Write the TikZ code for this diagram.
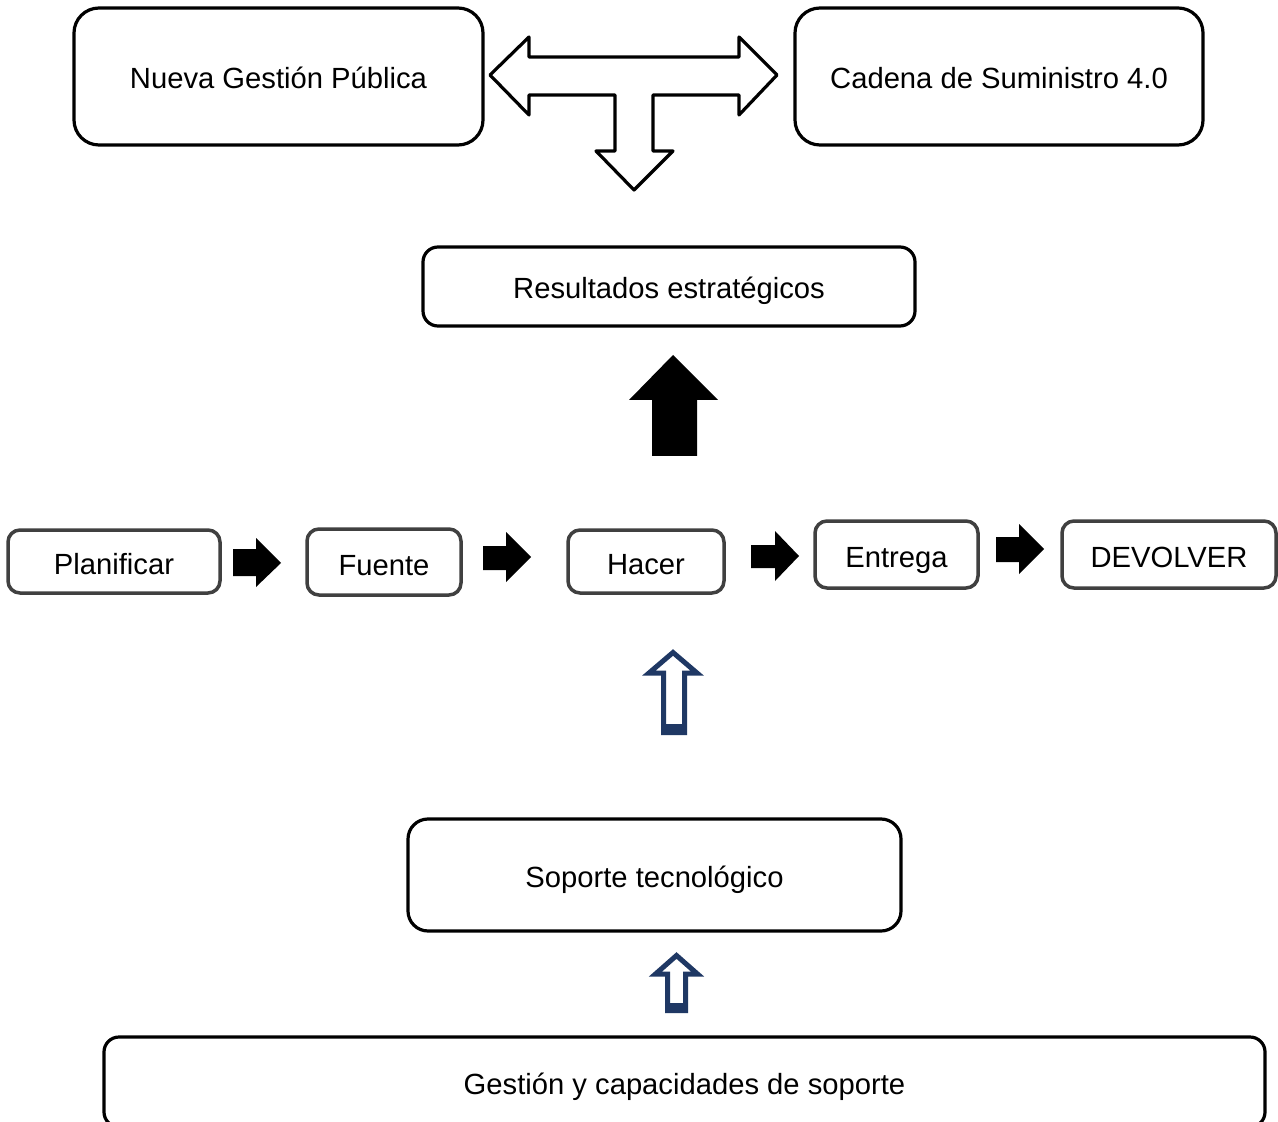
\documentclass[tikz,border=0pt]{standalone}
\usepackage{fontspec}
\setmainfont{Liberation Sans}
\newcommand\lblfont{\fontsize{14.6}{17.5}\selectfont}
\definecolor{rowgray}{HTML}{404040}
\definecolor{navy}{RGB}{31,56,100}
\begin{document}
\begin{tikzpicture}[x=0.5pt,y=-0.5pt,
  bigbox/.style={draw=black, line width=1.6pt, fill=white, inner sep=0pt, font=\lblfont, text height=12.4pt, text depth=0pt},
  rowbox/.style={draw=rowgray, line width=1.75pt, fill=white, rounded corners=6pt, inner sep=0pt, font=\lblfont, text height=13.2pt, text depth=0pt},
  blockarrow/.style={fill=black, draw=none},
  outarrow/.style={draw=black, fill=white, line width=1.6pt, line join=round},
  navyarrow/.style={draw=navy, fill=white, line width=2.5pt, line join=miter},
]
\useasboundingbox (0,0) rectangle (1278,1122);
\clip (0,0) rectangle (1278,1122);
\fill[white] (0,0) rectangle (1278,1122);

% top boxes
\node[bigbox, rounded corners=12.5pt, minimum width=204.5pt, minimum height=68.5pt] (ngp) at (278.5,76.5) {Nueva Gestión Pública};
\node[bigbox, rounded corners=12.5pt, minimum width=204pt, minimum height=68.5pt] (cs) at (999,76.5) {Cadena de Suministro 4.0};

% T-shaped arrow
\draw[outarrow] (490,75) -- (529,37) -- (529,57) -- (739,57) -- (739,37) -- (777,75)
  -- (739,115) -- (739,95) -- (653,95) -- (653,151) -- (673,151) -- (634,190)
  -- (596,151) -- (615,151) -- (615,95) -- (529,95) -- (529,115) -- cycle;

% results
\node[bigbox, rounded corners=7.5pt, minimum width=246pt, minimum height=39.5pt] (res) at (669,286.5) {Resultados estratégicos};

% black up arrow
\fill[blockarrow] (673,355) -- (718,400) -- (697,400) -- (697,456) -- (652,456) -- (652,400) -- (629,400) -- cycle;

% row of steps
\node[rowbox, minimum width=106pt, minimum height=31.5pt] (plan) at (114,561.5) {Planificar};
\node[rowbox, minimum width=77pt, minimum height=33pt] (fuente) at (384,562) {Fuente};
\node[rowbox, minimum width=78pt, minimum height=31.5pt] (hacer) at (646,561.5) {Hacer};
\node[rowbox, minimum width=81.5pt, minimum height=33.5pt] (entrega) at (896.5,554.5) {Entrega};
\node[rowbox, minimum width=107pt, minimum height=33.5pt] (dev) at (1169,554.5) {DEVOLVER};

% row arrows
\fill[blockarrow] (233,549) -- (256,549) -- (256,538) -- (281,563) -- (256,587) -- (256,576) -- (233,576) -- cycle;
\fill[blockarrow] (483,546) -- (506,546) -- (506,532) -- (531,557) -- (506,582) -- (506,570) -- (483,570) -- cycle;
\fill[blockarrow] (751,545) -- (775,545) -- (775,531) -- (799,556) -- (775,581) -- (775,568) -- (751,568) -- cycle;
\fill[blockarrow] (996,537) -- (1019,537) -- (1019,524) -- (1044,549) -- (1019,574) -- (1019,562) -- (996,562) -- cycle;

% navy outlined arrow 1
\draw[navyarrow] (673,652.5) -- (697,673) -- (684.5,673) -- (684.5,732.5) -- (663.5,732.5) -- (663.5,673) -- (649,673) -- cycle;
\fill[navy] (661,724) rectangle (687,735);

% support box
\node[bigbox, rounded corners=10pt, minimum width=246.5pt, minimum height=56pt] (sop) at (654.5,875) {Soporte tecnológico};

% navy outlined arrow 2
\draw[navyarrow] (676.5,955.5) -- (697.5,974) -- (685.5,974) -- (685.5,1010.5) -- (667.5,1010.5) -- (667.5,974) -- (655.5,974) -- cycle;
\fill[navy] (665,1003) rectangle (688,1013);

% bottom box
\node[bigbox, rounded corners=7.5pt, minimum width=580.5pt, minimum height=45pt] (gest) at (684.5,1082) {Gestión y capacidades de soporte};
\end{tikzpicture}
\end{document}
